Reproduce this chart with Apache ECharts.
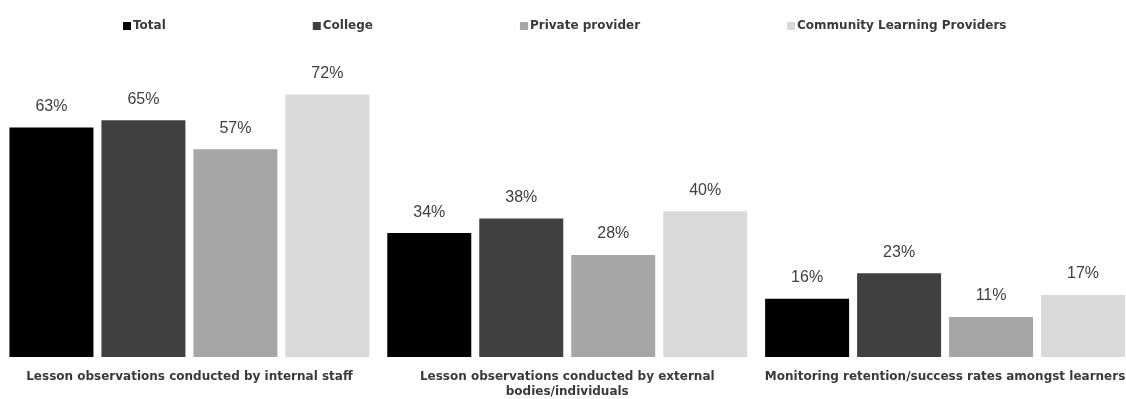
<!DOCTYPE html>
<html>
<head>
<meta charset="utf-8">
<script src="https://cdn.jsdelivr.net/npm/echarts@6/dist/echarts.min.js"></script>
<style>
  html, body { margin: 0; padding: 0; background: #ffffff; overflow: hidden; }
  #chart { width: 1134px; height: 399px; }
</style>
</head>
<body>
<div id="chart"></div>
<script>
// Quality-assurance activities by provider type (share of providers)
const categories = [
  'Lesson observations conducted by internal staff',
  'Lesson observations conducted by external\nbodies/individuals',
  'Monitoring retention/success rates amongst learners'
];
const seriesNames = ['Total', 'College', 'Private provider', 'Community Learning Providers'];
const total = [63, 34, 16];
const college = [65, 38, 23];
const privateProvider = [57, 28, 11];
const communityLearning = [72, 40, 17];
const seriesColors = ['#000000', '#404040', '#a6a6a6', '#d9d9d9'];

const values = [total, college, privateProvider, communityLearning];

// The plot runs slightly past the right edge of the window, so the canvas is a bit wider than the view
const chart = echarts.init(document.getElementById('chart'), null, { renderer: 'canvas' });

chart.setOption({
  animation: false,
  backgroundColor: '#ffffff',
  textStyle: { fontFamily: '"Liberation Sans", Arial, sans-serif' },
  legend: {
    top: 20,
    left: 123,
    padding: 0,
    itemGap: 147,
    itemWidth: 8,
    itemHeight: 8,
    icon: 'rect',
    textStyle: {
      fontFamily: '"DejaVu Sans", sans-serif',
      fontSize: 12,
      fontWeight: 'bold',
      color: '#3a3a3a',
      padding: [0, 0, 0, -3]
    },
    data: seriesNames
  },
  grid: {
    left: 0.5,
    right: 0,
    top: 65.5,
    bottom: 41.5,
    containLabel: false
  },
  xAxis: {
    type: 'category',
    data: categories,
    axisLine: { show: false },
    axisTick: { show: false },
    axisLabel: {
      interval: 0,
      margin: 12,
      fontFamily: '"DejaVu Sans", sans-serif',
      fontSize: 12,
      fontWeight: 'bold',
      color: '#3a3a3a',
      lineHeight: 15
    }
  },
  yAxis: {
    type: 'value',
    min: 0,
    max: 80,
    show: false,
    splitLine: { show: false }
  },
  series: seriesNames.map((name, i) => ({
    name: name,
    type: 'bar',
    data: values[i],
    barWidth: 84,
    barGap: '9.5%',
    barCategoryGap: '4.76%',
    itemStyle: { color: seriesColors[i] },
    label: {
      show: true,
      position: 'top',
      distance: 13,
      fontSize: 16,
      color: '#404040',
      formatter: '{c}%'
    }
  }))
});
</script>
</body>
</html>
